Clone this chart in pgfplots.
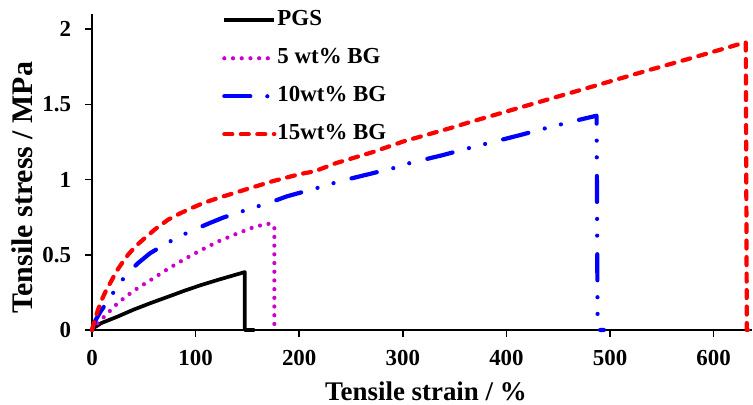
\documentclass[border=0pt]{standalone}
\usepackage{fontspec}
\setmainfont{Liberation Serif}
\usepackage{pgfplots}
\pgfplotsset{compat=1.18}
\definecolor{pgsmag}{RGB}{204,0,204}

\begin{document}
\begin{tikzpicture}
\begin{axis}[
    name=ax,
    scale only axis,
    width=660bp, height=316bp,
    xmin=0, xmax=637,
    ymin=0, ymax=2.1,
    xtick={0,100,200,300,400,500,600},
    ytick={0,0.5,1,1.5,2},
    yticklabels={0,0.5,1,1.5,2},
    axis lines*=left,
    axis line style={line width=2bp},
    tick style={line width=1.5bp, black},
    tick align=outside,
    major tick length=6.5bp,
    /pgf/number format/assume math mode=true,
    ticklabel style={font=\fontsize{23}{23}\selectfont\bfseries},
    xticklabel style={yshift=-10bp},
    yticklabel style={xshift=-11bp},
    xlabel={Tensile strain / \%},
    ylabel={Tensile stress / MPa},
    xlabel style={font=\fontsize{27}{27}\selectfont\bfseries, at={(axis description cs:0.506,0)}, anchor=base, yshift=-70bp},
    ylabel style={font=\fontsize{30}{30}\selectfont\bfseries, at={(axis description cs:-0.0894,0.45)}, anchor=base},
    clip=false,
    legend style={draw=none, fill=none, at={(axis description cs:0.197,1.014)}, anchor=north west,
        inner sep=0pt, row sep=17bp, font=\fontsize{23}{23}\selectfont\bfseries,
        nodes={inner sep=1bp, text height=15bp, text depth=4bp}},
    legend cell align=left,
    legend image code/.code={\draw[#1] (0bp,0bp) -- (50bp,0bp);},
    every axis plot/.append style={line width=4.2bp, line join=round},
]
\addplot[black, line width=3.7bp] coordinates {
    (0,0) (3,0.02) (9,0.046) (25,0.09) (40,0.135) (57,0.18) (75,0.225) (90,0.263)
    (105,0.298) (122,0.334) (135,0.36) (147.5,0.385) (147.5,0) (157,0)
};
\addlegendentry{PGS}

\addplot[pgsmag, line cap=round, dash pattern=on 0bp off 8.7bp] coordinates {
    (0,0) (4,0.035) (12,0.09) (25,0.18) (40,0.26) (57,0.334) (73,0.405) (90,0.474)
    (105,0.53) (122,0.589) (138,0.635) (154,0.678) (165,0.70) (170,0.706) (176,0.693) (176,0)
};
\addlegendentry{5 wt\% BG}

\addplot[blue, line cap=round, dash pattern=on 26bp off 17bp on 0bp off 16.7bp on 0bp off 18.6bp] coordinates {
    (0,0) (3,0.06) (8,0.12) (14,0.18) (23,0.274) (33,0.367) (44.5,0.445) (56,0.51)
    (68.6,0.562) (83,0.618) (98.6,0.666) (113.7,0.711) (127,0.748) (141,0.78) (157,0.815)
    (173,0.85) (188,0.888) (217,0.943) (240,0.99) (265,1.032) (291,1.076) (307,1.11)
    (339,1.163) (365,1.211) (397,1.267) (413,1.295) (440,1.345) (471,1.398) (487,1.424)
    (488,0) (494,0)
};
\addlegendentry{10wt\% BG}

\addplot[red, line cap=round, dash pattern=on 8bp off 8.5bp] coordinates {
    (0,0) (2,0.05) (5.8,0.135) (10,0.21) (14,0.268) (19,0.33) (23.6,0.39) (29,0.445)
    (34.8,0.5) (42,0.556) (51,0.611) (61,0.67) (73.4,0.733) (85,0.775) (96,0.81)
    (108,0.845) (121.7,0.877) (147.5,0.932) (175,0.99) (200,1.035) (215,1.055)
    (236,1.11) (270,1.18) (300.5,1.253) (345,1.34) (365,1.382) (403,1.458) (442,1.536)
    (474,1.60) (539,1.73) (580,1.81) (610,1.87) (628,1.907) (631,1.911) (632,0) (636,0)
};
\addlegendentry{15wt\% BG}
\end{axis}
\pgfresetboundingbox
\path ([shift={(-92bp,-75bp)}]ax.south west) rectangle ([shift={(1bp,14bp)}]ax.north east);
\end{tikzpicture}
\end{document}
